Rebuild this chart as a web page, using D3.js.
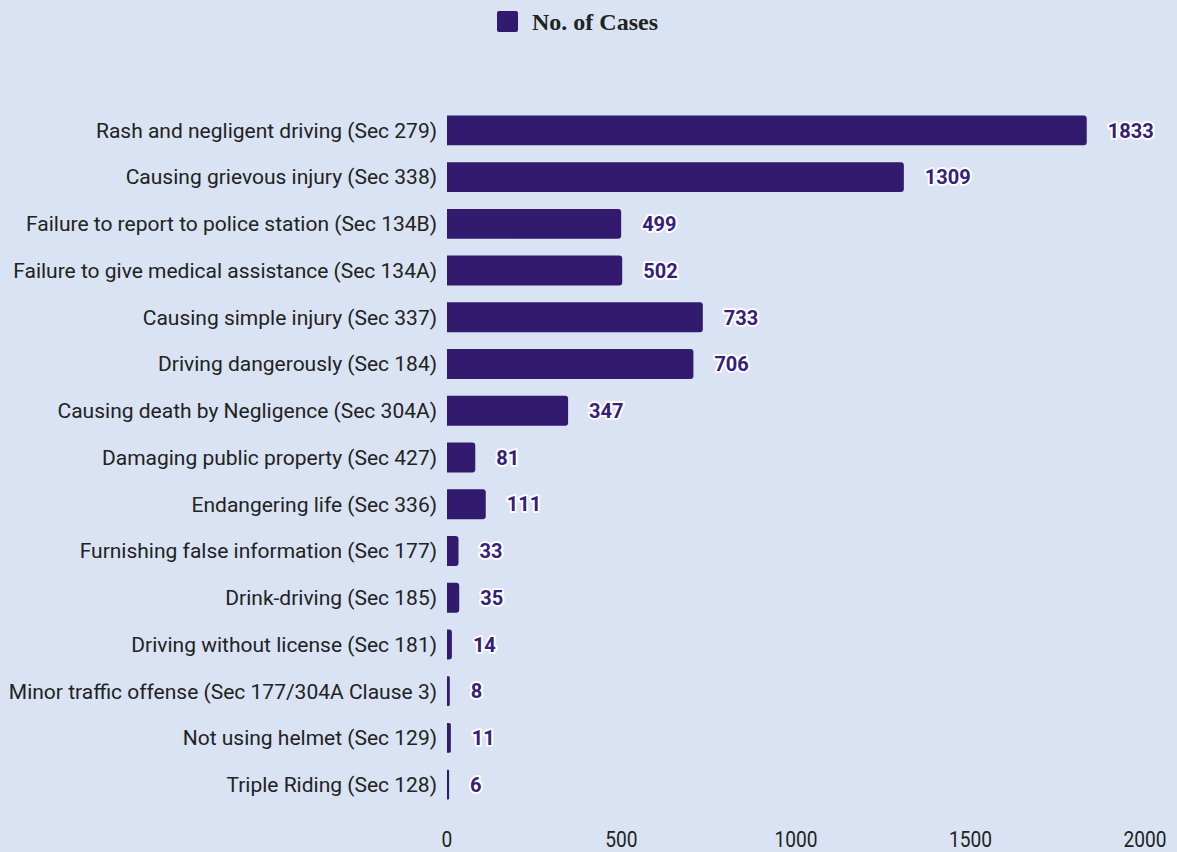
<!DOCTYPE html>
<html>
<head>
<meta charset="utf-8">
<script src="https://d3js.org/d3.v7.min.js"></script>
<style>
    html, body { margin: 0; padding: 0; background: #d9e3f3; }
    svg { display: block; }
</style>
</head>
<body>
<div id="chart"></div>
<script>
    // data
    var categories = [
        "Rash and negligent driving (Sec 279)",
        "Causing grievous injury (Sec 338)",
        "Failure to report to police station (Sec 134B)",
        "Failure to give medical assistance (Sec 134A)",
        "Causing simple injury (Sec 337)",
        "Driving dangerously (Sec 184)",
        "Causing death by Negligence (Sec 304A)",
        "Damaging public property (Sec 427)",
        "Endangering life (Sec 336)",
        "Furnishing false information (Sec 177)",
        "Drink-driving (Sec 185)",
        "Driving without license (Sec 181)",
        "Minor traffic offense (Sec 177/304A Clause 3)",
        "Not using helmet (Sec 129)",
        "Triple Riding (Sec 128)"
    ];
    var cases = [1833, 1309, 499, 502, 733, 706, 347, 81, 111, 33, 35, 14, 8, 11, 6];
    var xTicks = [0, 500, 1000, 1500, 2000];
    var seriesName = "No. of Cases";

    var W = 1177, H = 852;
    var barColor = "#321a6e";

    var svg = d3.select("#chart").append("svg")
        .attr("width", W)
        .attr("height", H);

    // scales
    var x = d3.scaleLinear().domain([0, 2000]).range([447, 1145]);
    var y = d3.scaleBand().domain(categories).range([107, 808]).paddingInner(0.36).paddingOuter(0.18);

    // legend
    var legend = svg.append("g");
    legend.append("rect")
        .attr("x", 497).attr("y", 11)
        .attr("width", 21).attr("height", 21)
        .attr("rx", 2)
        .attr("fill", barColor);
    legend.append("text")
        .attr("x", 532).attr("y", 30)
        .attr("font-family", "Liberation Serif, Times New Roman, serif")
        .attr("font-weight", "bold")
        .attr("font-size", 24)
        .attr("fill", "#222")
        .text(seriesName);

    // bars, rounded on the right end
    svg.append("g").selectAll("path")
        .data(cases)
        .enter()
        .append("path")
        .attr("fill", barColor)
        .attr("d", function (d, i) {
            var x0 = x(0), x1 = x(d), y0 = y(categories[i]), h = y.bandwidth();
            var r = Math.min(3, (x1 - x0) / 2);
            return "M" + x0 + "," + y0 +
                "H" + (x1 - r) +
                "Q" + x1 + "," + y0 + " " + x1 + "," + (y0 + r) +
                "V" + (y0 + h - r) +
                "Q" + x1 + "," + (y0 + h) + " " + (x1 - r) + "," + (y0 + h) +
                "H" + x0 + "Z";
        });

    // category labels
    svg.append("g").selectAll("text")
        .data(categories)
        .enter()
        .append("text")
        .attr("x", 437)
        .attr("y", function (d) { return y(d) + y.bandwidth() / 2; })
        .attr("dy", "0.35em")
        .attr("text-anchor", "end")
        .attr("font-family", "Roboto, sans-serif")
        .attr("font-size", 21)
        .attr("fill", "#222")
        .text(function (d) { return d; });

    // value labels
    svg.append("g").selectAll("text")
        .data(cases)
        .enter()
        .append("text")
        .attr("x", function (d) { return x(d) + 21; })
        .attr("y", function (d, i) { return y(categories[i]) + y.bandwidth() / 2; })
        .attr("dy", "0.36em")
        .attr("font-family", "Roboto, sans-serif")
        .attr("font-weight", "bold")
        .attr("font-size", 20)
        .attr("fill", "#35207a")
        .attr("stroke", "#fff")
        .attr("stroke-width", 4)
        .attr("stroke-linejoin", "round")
        .attr("paint-order", "stroke")
        .text(function (d) { return d; });

    // x axis (condensed-looking tick labels)
    var xAxis = svg.append("g")
        .call(d3.axisBottom(x).tickValues(xTicks).tickFormat(d3.format("d")).tickSize(0).tickPadding(0));
    xAxis.select(".domain").remove();
    xAxis.selectAll(".tick")
        .attr("transform", function (d) { return "translate(" + x(d) + ",847) scale(0.87,1)"; });
    xAxis.selectAll("text")
        .attr("y", 0)
        .attr("dy", 0)
        .attr("font-family", "Roboto, sans-serif")
        .attr("font-size", 22)
        .attr("fill", "#222");
</script>
</body>
</html>
